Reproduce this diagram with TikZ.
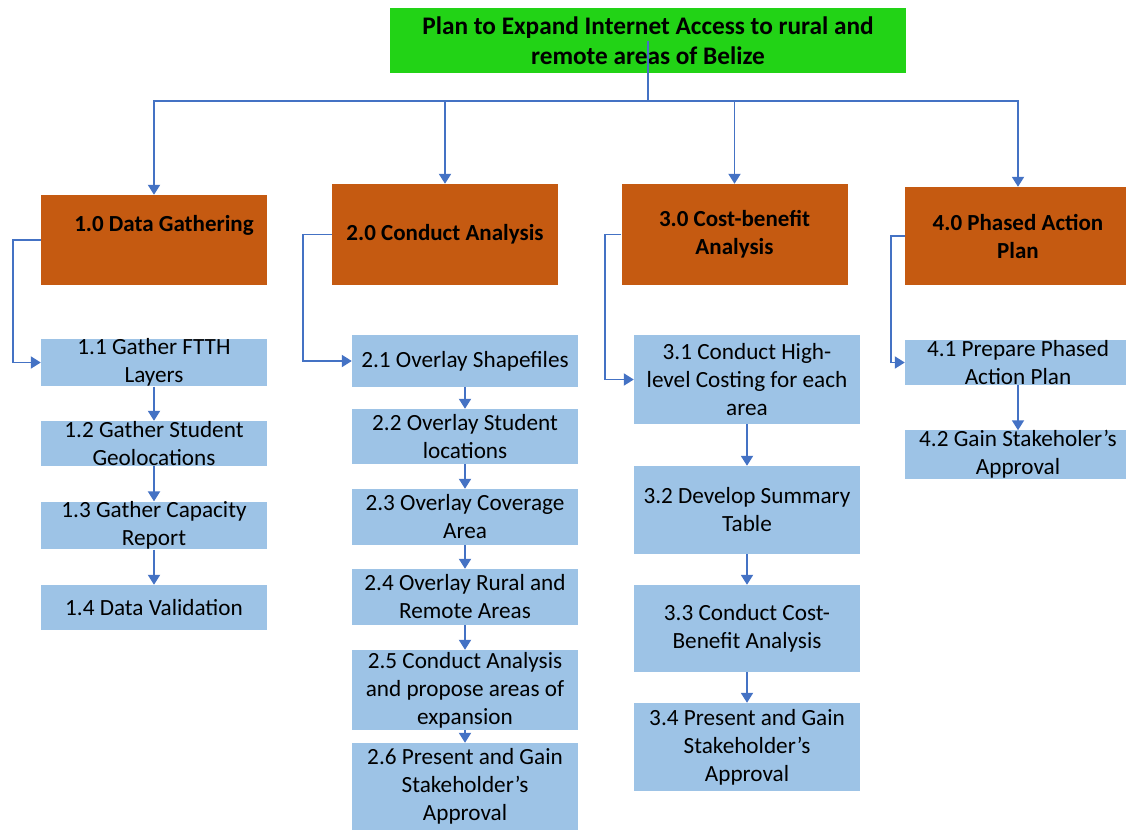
\documentclass[tikz,border=0pt]{standalone}
\usepackage{fontspec}
\setmainfont{Carlito}
\usetikzlibrary{arrows.meta}
\definecolor{titlegreen}{HTML}{22D316}
\definecolor{phase}{HTML}{C55A11}
\definecolor{task}{HTML}{9DC3E6}
\definecolor{link}{HTML}{4472C4}

\begin{document}
\begin{tikzpicture}[x=1pt,y=-1pt,
  titlebox/.style={fill=titlegreen, inner sep=0pt, align=center,
    minimum width=516pt, minimum height=65pt,
    font=\bfseries\fontsize{25.3}{30}\selectfont},
  phasebox/.style={fill=phase, inner sep=0pt, align=center,
    minimum width=226pt, minimum height=#1,
    font=\bfseries\fontsize{23}{28}\selectfont},
  phasetext/.style={inner sep=0pt, align=center,
    font=\bfseries\fontsize{23}{28}\selectfont},
  taskbox/.style={fill=task, inner sep=0pt, align=center,
    minimum width=226pt, minimum height=#1,
    font=\fontsize{23.2}{28}\selectfont},
  link/.style={draw=link, line width=1.9pt},
  arr/.style={link, -{Triangle[width=12pt,length=10pt]}},
]
\useasboundingbox (0,0) rectangle (1126,831);

% title
\node[titlebox] (plan) at (648,40.5) {Plan to Expand Internet Access to rural and\\remote areas of Belize};

% phases
\node[phasebox=90pt] (p1) at (154,240) {};
\node[phasetext] (p1t) at (164,225) {1.0 Data Gathering};
\node[phasebox=101pt] (p2) at (445,234.5) {2.0 Conduct Analysis};
\node[phasebox=101pt] (p3) at (734.5,234.5) {3.0 Cost-benefit\\Analysis};
\node[phasebox=98pt] (p4) at (1018,236) {4.0 Phased Action\\Plan};

% tasks of phase 1
\node[taskbox=43pt] (t11) at (154,362.5) {1.1 Gather FTTH\\Layers};
\node[taskbox=45pt] (t12) at (154,443.5) {1.2 Gather Student\\Geolocations};
\node[taskbox=43pt] (t13) at (154,525.5) {1.3 Gather Capacity\\Report};
\node[taskbox=45pt] (t14) at (154,607.5) {1.4 Data Validation};

% tasks of phase 2
\node[taskbox=52pt] (t21) at (465,361) {2.1 Overlay Shapefiles};
\node[taskbox=55pt] (t22) at (465,436.5) {2.2 Overlay Student\\locations};
\node[taskbox=56pt] (t23) at (465,517) {2.3 Overlay Coverage\\Area};
\node[taskbox=56pt] (t24) at (465,597) {2.4 Overlay Rural and\\Remote Areas};
\node[taskbox=80pt] (t25) at (465,690) {2.5 Conduct Analysis\\and propose areas of\\expansion};
\node[taskbox=87pt] (t26) at (465,786.5) {2.6 Present and Gain\\Stakeholder’s\\Approval};

% tasks of phase 3
\node[taskbox=89pt] (t31) at (747,379.5) {3.1 Conduct High-\\level Costing for each\\area};
\node[taskbox=88pt] (t32) at (747,510) {3.2 Develop Summary\\Table};
\node[taskbox=87pt] (t33) at (747,628.5) {3.3 Conduct Cost-\\Benefit Analysis};
\node[taskbox=88pt] (t34) at (747,747) {3.4 Present and Gain\\Stakeholder’s\\Approval};

% tasks of phase 4
\node[taskbox=45pt] (t41) at (1018,362.5) {4.1 Prepare Phased\\Action Plan};
\node[taskbox=45pt] (t42) at (1018,454.5) {4.2 Gain Stakeholer’s\\Approval};

% title to phases
\coordinate (bus) at (648,101);
\draw[link] (plan.center) -- (bus);
\foreach \p in {p1,p2,p3,p4}
  \draw[arr] (bus) -| (\p.north);

% phases to first tasks
\draw[arr] (p1.west) -- ++(-28,0) |- (t11.west);
\draw[arr] (p2.west) -- ++(-29,0) |- (t21.west);
\draw[arr] (p3.west) -- ++(-16,0) |- (t31.west);
\draw[arr] (p4.west) -- ++(-14,0) |- (t41.west);

% task sequences
\draw[arr] (t11.south) -- (t12.north);
\draw[arr] (t12.south) -- (t13.north);
\draw[arr] (t13.south) -- (t14.north);
\draw[arr] (t21.south) -- (t22.north);
\draw[arr] (t22.south) -- (t23.north);
\draw[arr] (t23.south) -- (t24.north);
\draw[arr] (t24.south) -- (t25.north);
\draw[arr] (t25.south) -- (t26.north);
\draw[arr] (t31.south) -- (t32.north);
\draw[arr] (t32.south) -- (t33.north);
\draw[arr] (t33.south) -- (t34.north);
\draw[arr] (t41.south) -- (t42.north);
\end{tikzpicture}
\end{document}
